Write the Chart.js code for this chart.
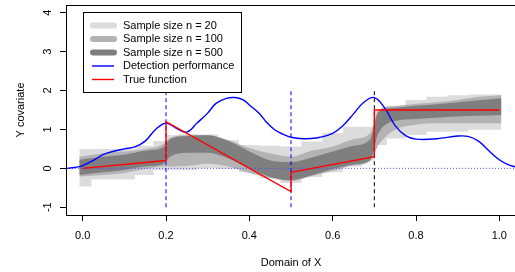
<!DOCTYPE html>
<html>
<head>
<meta charset="utf-8">
<script src="https://cdn.jsdelivr.net/npm/chart.js@4.4.0/dist/chart.umd.min.js"></script>
<style>
  html, body { margin: 0; padding: 0; background: #fff; }
  canvas { display: block; }
</style>
</head>
<body>
<canvas id="canvas" width="515" height="272"></canvas>
<script>
const ctx = document.getElementById('canvas').getContext('2d');

const bandX = [-0.008, 0.05, 0.1, 0.15, 0.19, 0.21, 0.25, 0.3, 0.35, 0.4, 0.45, 0.5, 0.55, 0.6, 0.65, 0.69, 0.71, 0.75, 0.8, 0.85, 0.9, 0.95, 1.005];

// n = 20 (light, blocky)
const lightLo = [-0.47, -0.29, -0.29, -0.17, -0.05, -0.04, -0.04, 0.0, -0.02, -0.1, -0.25, -0.38, -0.22, -0.1, 0.05, 0.2, 0.6, 0.77, 0.86, 0.94, 0.94, 0.99, 0.99];
const lightHi = [0.5, 0.5, 0.5, 0.58, 0.7, 0.86, 0.88, 0.87, 0.72, 0.6, 0.58, 0.56, 0.69, 0.9, 1.07, 1.07, 1.5, 1.6, 1.76, 1.84, 1.88, 1.9, 1.9];
// n = 100
const midLo = [-0.21, -0.17, -0.12, -0.02, 0.05, 0.05, 0.06, 0.12, 0.05, -0.12, -0.25, -0.33, -0.2, -0.07, 0.07, 0.18, 0.6, 0.99, 1.12, 1.16, 1.16, 1.16, 1.16];
const midHi = [0.3, 0.39, 0.43, 0.5, 0.6, 0.78, 0.85, 0.86, 0.72, 0.52, 0.38, 0.3, 0.45, 0.56, 0.75, 0.9, 1.5, 1.6, 1.66, 1.7, 1.76, 1.84, 1.88];
// n = 500
const darkLo = [-0.17, -0.1, -0.04, 0.05, 0.09, 0.3, 0.4, 0.4, 0.25, 0.0, -0.22, -0.3, -0.18, -0.02, 0.1, 0.22, 0.9, 1.22, 1.27, 1.3, 1.33, 1.35, 1.37];
const darkHi = [0.22, 0.3, 0.35, 0.45, 0.52, 0.75, 0.83, 0.85, 0.7, 0.43, 0.2, 0.16, 0.28, 0.43, 0.58, 0.75, 1.45, 1.56, 1.61, 1.65, 1.7, 1.75, 1.8];

// detection performance curve
const perfX = [-0.04, -0.02, 0, 0.025, 0.05, 0.075, 0.1, 0.125, 0.15, 0.175, 0.2, 0.225, 0.25, 0.275, 0.3, 0.32, 0.345, 0.365, 0.385, 0.4, 0.425, 0.44, 0.46, 0.48, 0.5, 0.53, 0.56, 0.6, 0.625, 0.65, 0.675, 0.7, 0.725, 0.75, 0.775, 0.8, 0.85, 0.9, 0.925, 0.95, 0.975, 1.0, 1.02, 1.04];
const perfY = [0.0, 0.02, 0.07, 0.2, 0.36, 0.44, 0.5, 0.55, 0.7, 1.0, 1.16, 1.03, 0.93, 1.17, 1.42, 1.67, 1.8, 1.82, 1.76, 1.63, 1.4, 1.2, 1.0, 0.88, 0.8, 0.76, 0.78, 0.9, 1.1, 1.4, 1.7, 1.82, 1.55, 1.1, 0.84, 0.75, 0.76, 0.83, 0.82, 0.7, 0.45, 0.22, 0.1, 0.03];

// true function
const trueX = [0, 0.2, 0.2, 0.5, 0.5, 0.7, 0.7, 1.0];
const trueY = [0, 0.2, 1.2, -0.6, -0.1, 0.3, 1.5, 1.5];

// change points
const changeX = [0.2, 0.5, 0.7];
const changeColor = ['#0000ff', '#0000ff', '#000000'];

const xTicks = [0, 0.2, 0.4, 0.6, 0.8, 1.0];
const yTicks = [-1, 0, 1, 2, 3, 4];

const legendLabels = ['Sample size n = 20', 'Sample size n = 100', 'Sample size n = 500', 'Detection performance', 'True function'];
const legendColors = ['#dcdcdc', '#b3b3b3', '#7f7f7f', '#0000ff', '#ff0000'];

const FONT = '11px "Liberation Sans", Arial, sans-serif';

function pts(xv, yv) {
    return xv.map((x, i) => ({ x: x, y: yv[i] }));
}

function band(lo, hi, color, order, extra) {
    const base = Object.assign({ showLine: true, pointRadius: 0, borderWidth: 0, borderColor: color }, extra);
    return [
        Object.assign({}, base, { data: pts(bandX, lo), fill: false, order: order }),
        Object.assign({}, base, { data: pts(bandX, hi), backgroundColor: color, order: order })
    ];
}

const datasets = [];
const light = band(lightLo, lightHi, legendColors[0], 9, { stepped: 'middle' });
const mid = band(midLo, midHi, legendColors[1], 8, { cubicInterpolationMode: 'monotone' });
const dark = band(darkLo, darkHi, legendColors[2], 7, { cubicInterpolationMode: 'monotone' });
[light, mid, dark].forEach(b => {
    const idx = datasets.length;
    b[1].fill = idx;
    datasets.push(b[0], b[1]);
});

// zero line
datasets.push({
    data: [{ x: -0.04, y: 0 }, { x: 1.04, y: 0 }],
    showLine: true, pointRadius: 0, borderColor: '#4d4dff', borderWidth: 1,
    borderDash: [1, 2], fill: false, order: 5
});

changeX.forEach((cx, i) => {
    datasets.push({
        data: [{ x: cx, y: -1 }, { x: cx, y: 2 }],
        showLine: true, pointRadius: 0, borderColor: changeColor[i], borderWidth: 1,
        borderDash: [4, 3], fill: false, order: 4
    });
});

datasets.push({
    data: pts(perfX, perfY),
    showLine: true, pointRadius: 0, borderColor: '#0000ff', borderWidth: 1.4,
    tension: 0.4, fill: false, order: 2
});

datasets.push({
    data: pts(trueX, trueY),
    showLine: true, pointRadius: 0, borderColor: '#ff0000', borderWidth: 1.4,
    fill: false, order: 1
});

const chart = new Chart(ctx, {
    type: 'scatter',
    data: { datasets: datasets },
    options: {
        responsive: false,
        animation: false,
        devicePixelRatio: 1,
        events: [],
        layout: { padding: { top: 5, left: 0, right: 0, bottom: 0 } },
        plugins: {
            legend: { display: false },
            tooltip: { enabled: false }
        },
        scales: {
            x: {
                type: 'linear',
                min: -0.04,
                max: 1.0376,
                afterBuildTicks: (scale) => { scale.ticks = xTicks.map(v => ({ value: v })); },
                afterFit: (scale) => { scale.height = 57; },
                grid: { drawOnChartArea: false, drawTicks: true, tickLength: 6, tickColor: '#000', lineWidth: 1 },
                border: { display: false },
                ticks: {
                    color: '#000',
                    font: { family: '"Liberation Sans", Arial, sans-serif', size: 11 },
                    padding: 8,
                    maxRotation: 0,
                    callback: (v) => Number(v).toFixed(1)
                }
            },
            y: {
                type: 'linear',
                min: -1.2,
                max: 4.2,
                afterBuildTicks: (scale) => { scale.ticks = yTicks.map(v => ({ value: v })); },
                afterFit: (scale) => { scale.width = 66; },
                grid: { drawOnChartArea: false, drawTicks: true, tickLength: 6, tickColor: '#000', lineWidth: 1 },
                border: { display: false },
                ticks: { display: false }
            }
        }
    },
    plugins: [{
        id: 'frame',
        afterDraw: (chart) => {
            const c = chart.ctx;
            const area = chart.chartArea;
            const yScale = chart.scales.y;

            c.save();
            c.strokeStyle = '#000';
            c.lineWidth = 1;
            c.strokeRect(Math.round(area.left) + 0.5, Math.round(area.top) + 0.5,
                area.right - area.left + 2, area.bottom - area.top);

            // rotated y tick labels
            c.font = FONT;
            c.fillStyle = '#000';
            c.textAlign = 'center';
            c.textBaseline = 'middle';
            yTicks.forEach(v => {
                c.save();
                c.translate(48, yScale.getPixelForValue(v));
                c.rotate(-Math.PI / 2);
                c.fillText(String(v), 0, 0);
                c.restore();
            });

            // axis titles
            c.fillText('Domain of X', 291, 263);
            c.save();
            c.translate(21, 110);
            c.rotate(-Math.PI / 2);
            c.fillText('Y covariate', 0, 0);
            c.restore();

            // legend
            c.fillStyle = '#fff';
            c.fillRect(83.5, 12.5, 158, 80);
            c.strokeRect(83.5, 12.5, 158, 80);
            legendLabels.forEach((label, i) => {
                const y = 25.5 + i * 13.5;
                c.beginPath();
                c.strokeStyle = legendColors[i];
                if (i < 3) {
                    c.lineWidth = 6;
                    c.lineCap = 'round';
                    c.moveTo(93, y);
                    c.lineTo(114, y);
                } else {
                    c.lineWidth = 1.4;
                    c.lineCap = 'butt';
                    c.moveTo(92, y);
                    c.lineTo(114, y);
                }
                c.stroke();
                c.fillStyle = '#000';
                c.textAlign = 'left';
                c.fillText(label, 123, y);
            });
            c.restore();
        }
    }]
});
</script>
</body>
</html>
